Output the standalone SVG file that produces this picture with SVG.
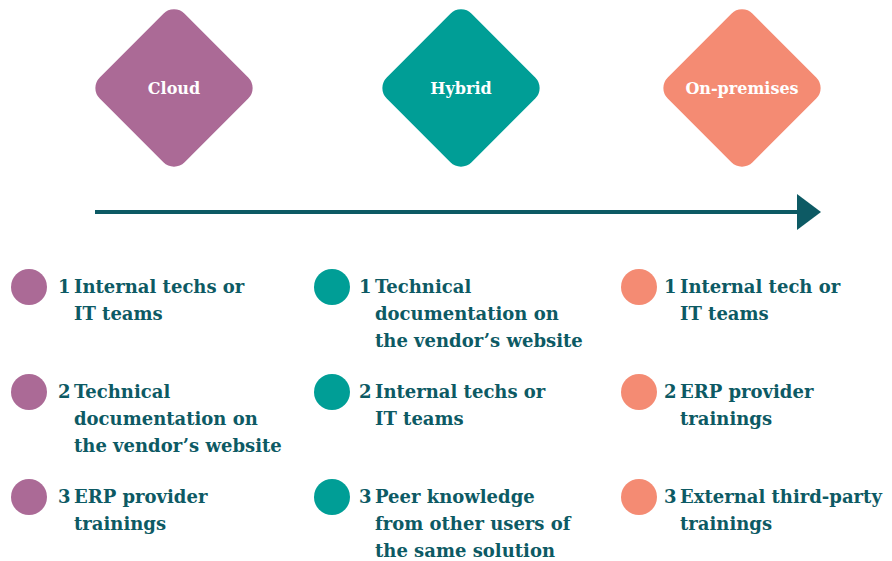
<svg xmlns="http://www.w3.org/2000/svg" width="892" height="561" viewBox="0 0 892 561">
<style>
.lbl{font-family:"DejaVu Serif",serif;font-weight:bold;font-size:16px;fill:#ffffff;text-anchor:middle}
.it{font-family:"DejaVu Serif",serif;font-weight:bold;font-size:18px;fill:#0d5a64}
.cloud{fill:#ab6a96}.hyb{fill:#009e96}.onp{fill:#f48b73}
</style>
<rect width="892" height="561" fill="#ffffff"/>
<g id="connectors">
<line x1="95" y1="212" x2="800" y2="212" stroke="#0d5a64" stroke-width="4"/>
<polygon points="797,194 821,212 797,230" fill="#0d5a64"/>
</g>
<g id="cloud"><rect class="cloud" x="114" y="28" width="120" height="120" rx="15" transform="rotate(45 174 88)"/><text class="lbl" x="174" y="94">Cloud</text></g>
<g id="hybrid"><rect class="hyb" x="401" y="28" width="120" height="120" rx="15" transform="rotate(45 461 88)"/><text class="lbl" x="461" y="94">Hybrid</text></g>
<g id="onprem"><rect class="onp" x="682" y="28" width="120" height="120" rx="15" transform="rotate(45 742 88)"/><text class="lbl" x="742" y="94">On-premises</text></g>
<g id="cloud-1"><circle class="cloud" cx="29" cy="287" r="18"/><text class="it" x="58" y="293">1<tspan x="74">Internal techs or</tspan><tspan x="74" dy="27">IT teams</tspan></text></g>
<g id="cloud-2"><circle class="cloud" cx="29" cy="392" r="18"/><text class="it" x="58" y="398">2<tspan x="74">Technical</tspan><tspan x="74" dy="27">documentation on</tspan><tspan x="74" dy="27">the vendor’s website</tspan></text></g>
<g id="cloud-3"><circle class="cloud" cx="29" cy="497" r="18"/><text class="it" x="58" y="503">3<tspan x="74">ERP provider</tspan><tspan x="74" dy="27">trainings</tspan></text></g>
<g id="hybrid-1"><circle class="hyb" cx="332" cy="287" r="18"/><text class="it" x="359" y="293">1<tspan x="375">Technical</tspan><tspan x="375" dy="27">documentation on</tspan><tspan x="375" dy="27">the vendor’s website</tspan></text></g>
<g id="hybrid-2"><circle class="hyb" cx="332" cy="392" r="18"/><text class="it" x="359" y="398">2<tspan x="375">Internal techs or</tspan><tspan x="375" dy="27">IT teams</tspan></text></g>
<g id="hybrid-3"><circle class="hyb" cx="332" cy="497" r="18"/><text class="it" x="359" y="503">3<tspan x="375">Peer knowledge</tspan><tspan x="375" dy="27">from other users of</tspan><tspan x="375" dy="27">the same solution</tspan></text></g>
<g id="onprem-1"><circle class="onp" cx="639" cy="287" r="18"/><text class="it" x="664" y="293">1<tspan x="680">Internal tech or</tspan><tspan x="680" dy="27">IT teams</tspan></text></g>
<g id="onprem-2"><circle class="onp" cx="639" cy="392" r="18"/><text class="it" x="664" y="398">2<tspan x="680">ERP provider</tspan><tspan x="680" dy="27">trainings</tspan></text></g>
<g id="onprem-3"><circle class="onp" cx="639" cy="497" r="18"/><text class="it" x="664" y="503">3<tspan x="680">External third-party</tspan><tspan x="680" dy="27">trainings</tspan></text></g>
</svg>
